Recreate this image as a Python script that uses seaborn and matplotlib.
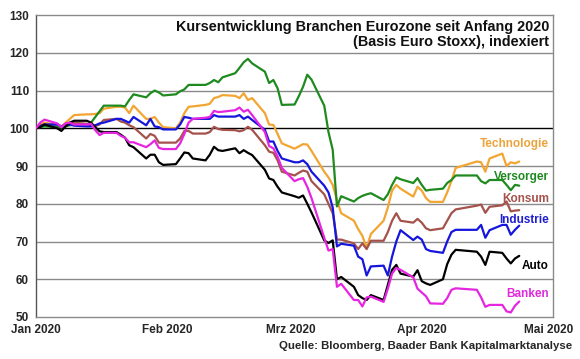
import numpy as np
import pandas as pd
import matplotlib.pyplot as plt
import matplotlib.dates as mdates
import seaborn as sns

# Trading days (Basis 01.01.2020 = 100), without Good Friday / Easter Monday
dates = pd.to_datetime(['2020-01-01']).append(
    pd.bdate_range('2020-01-02', '2020-04-24').drop(pd.to_datetime(['2020-04-10', '2020-04-13'])))

technologie = [100,
    101.0, 101.5, 100.8, 100.3, 101.5, 102.5, 103.5, 103.7, 103.7, 103.8, 104.0, 105.2, 105.7, 105.7, 105.5, 104.0, 106.0, 102.5, 102.5, 103.0, 101.5, 100.3,
    100.0, 101.5, 104.0, 105.7, 105.8, 106.2, 106.5, 108.0, 108.3, 108.8, 108.6, 108.0, 109.3, 107.5, 108.0, 104.0, 101.0, 100.9, 98.5, 96.0,
    94.6, 95.2, 95.8, 95.7, 94.0, 88.5, 87.0, 85.0, 81.0, 77.5, 75.5, 73.3, 71.5, 68.3, 72.0, 75.5, 79.0, 83.5, 85.0, 84.0, 81.9, 84.5,
    83.5, 81.5, 80.5, 80.5, 83.0, 86.0, 89.5, 91.2, 91.0, 88.5, 92.0, 93.3, 90.0, 91.0, 90.7, 91.2]
versorger = [100,
    100.3, 100.5, 100.3, 100.3, 100.5, 100.8, 101.0, 101.0, 101.5, 103.0, 104.5, 106.0, 106.0, 106.0, 105.8, 107.5, 109.0, 108.2, 109.3, 110.0, 109.5, 108.7,
    109.0, 109.8, 110.3, 111.5, 111.5, 111.5, 112.0, 112.8, 112.2, 113.5, 114.6, 116.0, 117.5, 118.4, 117.2, 115.0, 112.0, 112.8, 110.6, 106.2,
    106.3, 108.5, 111.0, 114.2, 112.9, 106.0, 99.0, 94.3, 79.3, 82.0, 80.6, 81.5, 82.1, 82.5, 82.8, 81.0, 82.5, 85.0, 87.0, 86.5, 85.5, 86.8,
    85.0, 83.5, 83.7, 84.0, 85.5, 86.3, 87.5, 87.5, 86.0, 85.4, 86.3, 86.3, 85.0, 83.6, 85.0, 84.8]
konsum = [100,
    100.8, 101.0, 101.0, 100.5, 101.2, 101.5, 101.5, 101.2, 100.8, 100.6, 101.0, 102.2, 102.5, 101.8, 101.5, 100.8, 100.3, 97.3, 98.5, 98.0, 96.2, 96.2,
    96.2, 97.3, 99.3, 99.3, 98.6, 98.6, 99.0, 100.4, 99.8, 99.6, 99.5, 99.2, 99.5, 100.4, 99.6, 95.5, 93.8, 93.5, 91.5, 88.5,
    87.5, 88.2, 88.8, 88.5, 86.0, 82.5, 80.0, 77.5, 70.5, 70.5, 69.5, 68.0, 69.5, 68.0, 70.2, 70.2, 72.5, 75.5, 77.5, 75.5, 75.0, 76.0,
    75.0, 73.5, 73.0, 73.5, 75.5, 77.5, 78.5, 79.5, 79.8, 77.6, 79.2, 79.6, 80.6, 78.0, 78.2, 78.3]
industrie = [100,
    100.5, 101.0, 101.0, 100.5, 100.8, 101.0, 100.7, 100.5, 100.5, 100.8, 101.3, 101.5, 102.5, 102.5, 102.0, 101.5, 103.0, 100.8, 102.5, 100.5, 100.3, 99.7,
    99.7, 101.0, 103.0, 102.8, 102.5, 102.5, 102.5, 103.5, 103.1, 103.1, 103.1, 103.5, 102.5, 103.1, 102.2, 99.6, 96.5, 96.5, 94.0, 92.0,
    91.0, 91.0, 91.5, 90.5, 88.5, 84.8, 83.0, 79.0, 68.7, 69.4, 68.9, 66.0, 65.3, 61.0, 63.4, 63.6, 61.0, 66.0, 70.0, 73.0, 70.4, 71.3,
    70.5, 68.0, 67.5, 67.0, 70.0, 72.5, 73.1, 73.1, 74.4, 71.0, 73.0, 74.4, 74.4, 71.8, 73.1, 74.2]
auto = [100,
    100.3, 101.0, 100.0, 99.3, 100.5, 101.5, 102.0, 102.0, 101.5, 100.3, 99.2, 99.0, 99.0, 98.3, 97.5, 95.5, 95.0, 92.0, 93.0, 93.0, 91.0, 90.3,
    90.5, 92.0, 93.6, 93.4, 92.0, 91.5, 93.0, 95.1, 94.2, 94.0, 94.7, 93.4, 94.2, 93.5, 92.9, 89.0, 86.7, 86.3, 84.5, 83.0,
    82.0, 81.6, 82.2, 80.0, 77.7, 70.3, 69.6, 70.3, 60.0, 60.6, 58.0, 55.8, 55.0, 54.5, 55.8, 54.5, 58.5, 62.5, 63.8, 61.5, 60.7, 62.4,
    59.5, 58.9, 58.5, 60.0, 64.0, 66.5, 67.8, 67.3, 66.0, 63.8, 67.3, 67.0, 65.5, 64.2, 65.5, 66.2]
banken = [100,
    101.5, 102.3, 101.3, 100.3, 101.3, 101.5, 101.0, 101.0, 101.2, 99.5, 98.2, 98.8, 98.8, 98.0, 97.5, 96.3, 96.3, 95.0, 95.8, 96.8, 94.8, 94.5,
    94.5, 96.0, 98.5, 101.5, 102.5, 102.8, 103.0, 104.6, 104.3, 104.4, 104.8, 105.5, 104.4, 104.9, 103.5, 99.0, 95.3, 94.7, 92.5, 89.5,
    86.0, 86.5, 86.8, 84.5, 81.5, 71.0, 67.6, 68.0, 58.0, 58.8, 54.5, 54.5, 52.8, 55.2, 55.4, 54.0, 57.5, 61.5, 63.0, 62.5, 60.5, 57.5,
    56.5, 55.5, 53.6, 53.5, 55.0, 57.2, 57.6, 57.2, 55.2, 52.7, 53.2, 53.2, 51.5, 51.2, 53.0, 54.1]

branchen = ['Technologie', 'Versorger', 'Konsum', 'Industrie', 'Auto', 'Banken']
colors = ['#F2A532', '#1F8A1F', '#A5524C', '#1515DD', '#000000', '#E625E0']
label_colors = ['#EBA43C', '#1F8A1F', '#A5524C', '#1F1FD0', '#000000', '#E02ADB']
month_labels = ['Jan 2020', 'Feb 2020', 'Mrz 2020', 'Apr 2020', 'Mai 2020']

series = [technologie, versorger, konsum, industrie, auto, banken]
df = pd.concat([pd.DataFrame({'Datum': dates, 'Wert': s, 'Branche': n})
                for n, s in zip(branchen, series)], ignore_index=True)

sns.set_style('white')
plt.rcParams['font.family'] = ['Liberation Sans', 'DejaVu Sans']

fig = plt.figure(figsize=(5.8, 3.59), dpi=100)
ax = fig.add_axes([0.062, 0.117, 0.891, 0.841])

for v in range(60, 130, 10):
    ax.axhline(v, color='#000000' if v == 100 else '#8a8a8a', lw=1.0, zorder=0)

sns.lineplot(data=df, x='Datum', y='Wert', hue='Branche', hue_order=branchen,
             palette=dict(zip(branchen, colors)), linewidth=1.6, legend=False,
             ax=ax, zorder=3)

start = pd.Timestamp('2020-01-01')
ax.set_xlim(mdates.date2num(start), mdates.date2num(start) + 121.9)
ax.set_ylim(50, 130)
ax.set_yticks(range(50, 131, 10))
ax.set_xticks(pd.date_range('2020-01-01', '2020-05-01', freq='MS'))
ax.set_xticklabels(month_labels)
ax.set_xlabel('')
ax.set_ylabel('')
ax.tick_params(axis='both', labelsize=8.5, length=3, width=1, color='#808080', pad=2)
for lab in ax.get_xticklabels() + ax.get_yticklabels():
    lab.set_fontweight('bold')
for side in ['top', 'right', 'bottom']:
    ax.spines[side].set_color('#8a8a8a')
    ax.spines[side].set_linewidth(1.0)
ax.spines['left'].set_color('#555555')
ax.spines['left'].set_linewidth(1.0)

# Branch labels at the right edge
label_pos = [95.8, 87.1, 81.3, 75.7, 63.5, 56.0]
xr = mdates.date2num(start) + 121.0
for name, c, y in zip(branchen, label_colors, label_pos):
    ax.text(xr, y, name, color=c, fontsize=8.5, fontweight='bold', ha='right', va='center', zorder=4)

ax.text(0.993, 0.985, 'Kursentwicklung Branchen Eurozone seit Anfang 2020\n(Basis Euro Stoxx), indexiert',
        transform=ax.transAxes, ha='right', va='top', fontsize=10.4, fontweight='bold',
        linespacing=1.15, color='#111111')

fig.text(0.986, 0.037, 'Quelle: Bloomberg, Baader Bank Kapitalmarktanalyse',
         ha='right', va='center', fontsize=8.2, fontweight='bold')

fig.savefig('out.png', dpi=100)
